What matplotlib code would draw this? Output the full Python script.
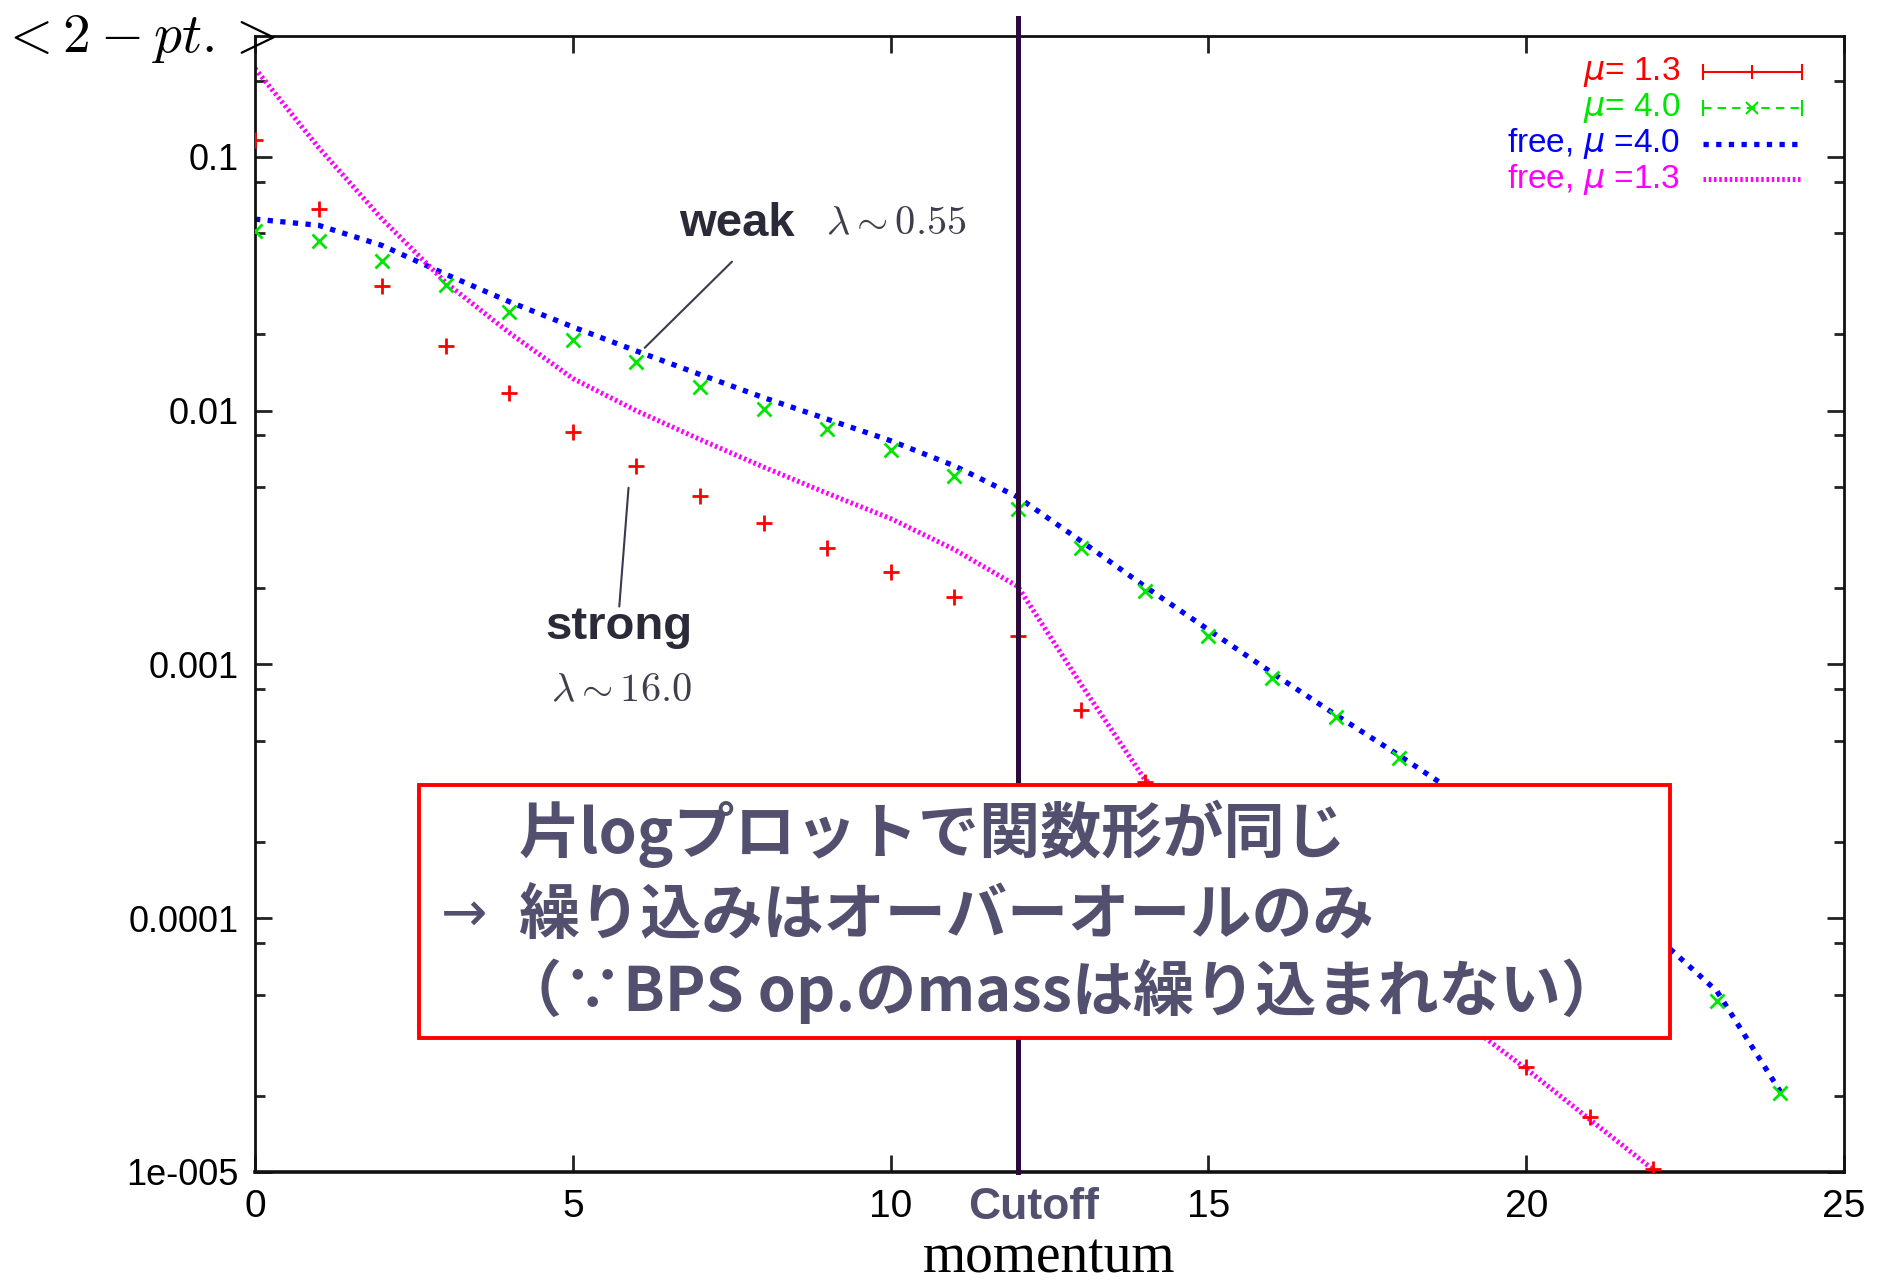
import numpy as np
import matplotlib
matplotlib.use("Agg")
import matplotlib.pyplot as plt
from matplotlib.patches import Rectangle
from matplotlib.ticker import FixedLocator, FixedFormatter, LogLocator, NullFormatter

plt.rcParams['font.family'] = ['Liberation Sans', 'DejaVu Sans']
plt.rcParams['mathtext.fontset'] = 'dejavusans'

# --- data (2-pt function vs momentum) ---
# mu = 1.3 (points 15..19 sit behind the text box, estimated)
mom_mu13 = np.arange(0, 23)
corr_mu13 = [0.1164, 0.0626, 0.0310, 0.0180, 0.01178, 0.00822, 0.00607, 0.00462,
             0.00360, 0.00287, 0.00231, 0.00184, 0.00130, 0.000662, 0.000345,
             0.000226, 0.000148, 9.47e-5, 6.14e-5, 3.93e-5, 2.60e-5, 1.65e-5, 1.03e-5]

# mu = 4.0 (points 19..22 hidden behind the box, estimated)
mom_mu40 = np.arange(0, 25)
corr_mu40 = [0.0511, 0.0468, 0.0389, 0.0313, 0.0244, 0.0190, 0.0155, 0.0124,
             0.0102, 0.00849, 0.00699, 0.00551, 0.00410, 0.00287, 0.00194,
             0.00130, 0.000887, 0.000619, 0.000428, 0.000287, 0.000194,
             0.000128, 8.22e-5, 4.73e-5, 2.05e-5]

# free theory curves
mom_free40 = np.arange(0, 25)
free_mu40 = [0.0569, 0.0538, 0.0448, 0.0345, 0.0269, 0.0214, 0.0172, 0.0139,
             0.01127, 0.00927, 0.00762, 0.00607, 0.00457, 0.00306, 0.00203,
             0.00137, 0.000927, 0.000634, 0.000438, 0.000299, 0.000203,
             0.000134, 8.68e-5, 5.16e-5, 2.07e-5]

mom_free13 = np.arange(0, 24)
free_mu13 = [0.2234, 0.109, 0.0569, 0.0320, 0.0203, 0.0134, 0.0100, 0.00771,
             0.00600, 0.00473, 0.00376, 0.00284, 0.00203, 0.000832, 0.000352,
             0.000231, 0.000153, 9.68e-5, 6.27e-5, 3.93e-5, 2.55e-5, 1.61e-5,
             1.02e-5, 6.4e-6]

cutoff = 12
xticks = [0, 5, 10, 15, 20, 25]
yticks = [1e-5, 1e-4, 1e-3, 1e-2, 1e-1]
ytick_labels = ['1e-005', '0.0001', '0.001', '0.01', '0.1']

legend_labels = [r'$\mu$= 1.3', r'$\mu$= 4.0', r'free, $\mu$ =4.0', r'free, $\mu$ =1.3']

box_lines = ['片logプロットで関数形が同じ',
             '繰り込みはオーバーオールのみ',
             '（∵BPS op.のmassは繰り込まれない）']

RED = '#ff0000'
GREEN = '#00e600'
BLUE = '#0000ff'
MAGENTA = '#ff00ff'
SLATE = '#52506e'
DARK = '#2a2a38'

fig = plt.figure(figsize=(18.78, 12.88), dpi=100)
ax = fig.add_axes([0.1358, 0.0901, 0.8461, 0.8820])

# Curves
ax.plot(mom_free40, free_mu40, color=BLUE, lw=3.8, linestyle=(0, (1, 1.4)), zorder=2)
ax.plot(mom_free13, free_mu13, color=MAGENTA, lw=3.6, linestyle=(0, (0.5, 0.55)), zorder=2)
ax.plot(mom_mu13, corr_mu13, linestyle='none', marker='+', ms=12, mew=2,
        color=RED, zorder=3)
ax.plot(mom_mu40, corr_mu40, linestyle='none', marker='x', ms=10, mew=2,
        color=GREEN, zorder=3)

# Cutoff line (runs a bit above the frame like on the slide)
ax.axvline(cutoff, ymin=0, ymax=1.016, color='#2d0a3a', lw=3.6, zorder=4, clip_on=False)

ax.set_yscale('log')
ax.set_xlim(0, 25)
ax.set_ylim(1e-5, 0.3)

ax.xaxis.set_major_locator(FixedLocator(xticks))
ax.yaxis.set_major_locator(FixedLocator(yticks))
ax.yaxis.set_major_formatter(FixedFormatter(ytick_labels))
ax.yaxis.set_minor_locator(LogLocator(base=10, subs=(2, 5, 8)))
ax.yaxis.set_minor_formatter(NullFormatter())

ax.tick_params(which='both', direction='in', top=True, right=True, width=2, color='#222222')
ax.tick_params(which='major', length=12)
ax.tick_params(which='minor', length=7)
ax.tick_params(axis='y', labelsize=26, pad=12)
ax.tick_params(axis='x', labelsize=28, pad=12)
for lab in ax.get_xticklabels():
    lab.set_family(['Liberation Sans Narrow', 'Liberation Sans'])

for sp in ax.spines.values():
    sp.set_linewidth(2)
    sp.set_color('#111111')
ax.spines['bottom'].set_linewidth(2.6)

# Legend drawn like gnuplot: right-aligned labels, samples on the right
rows = [0.968, 0.937, 0.905, 0.874]
colors = [RED, GREEN, BLUE, MAGENTA]
x0, x1 = 0.911, 0.9736
for lab, yy, c in zip(legend_labels, rows, colors):
    ax.text(0.897, yy, lab, transform=ax.transAxes, ha='right', va='center',
            fontsize=24, color=c)
ax.plot([x0, x1], [rows[0]] * 2, color=RED, lw=1.5, transform=ax.transAxes)
ax.plot([x0, x1], [rows[0]] * 2, ls='none', marker='|', ms=12, mew=1.5, color=RED,
        transform=ax.transAxes)
ax.plot([(x0 + x1) / 2], [rows[0]], marker='+', ms=10, mew=1.5, color=RED,
        transform=ax.transAxes)
ax.plot([x0, x1], [rows[1]] * 2, color=GREEN, lw=1.5, ls=(0, (4, 3)), transform=ax.transAxes)
ax.plot([x0, x1], [rows[1]] * 2, ls='none', marker='|', ms=12, mew=1.5, color=GREEN,
        transform=ax.transAxes)
ax.plot([(x0 + x1) / 2], [rows[1]], marker='x', ms=9, mew=1.5, color=GREEN,
        transform=ax.transAxes)
ax.plot([x0, x1], [rows[2]] * 2, color=BLUE, lw=3.8, ls=(0, (1, 1.4)), transform=ax.transAxes)
ax.plot([x0, x1], [rows[3]] * 2, color=MAGENTA, lw=3.6, ls=(0, (0.5, 0.55)),
        transform=ax.transAxes)

# Annotations
ax.text(0.2668, 0.8346, 'weak', transform=ax.transAxes, ha='left', va='center',
        fontsize=34, fontweight='bold', color=DARK)
ax.text(0.3595, 0.8346, r'$\lambda \sim 0.55$', transform=ax.transAxes, ha='left',
        va='center', fontsize=29, color='#3e3e4c', math_fontfamily='cm')
ax.annotate('', xy=(6.10, 0.0174), xytext=(0.3014, 0.8030), textcoords='axes fraction',
            arrowprops=dict(arrowstyle='-', color='#3a3a50', lw=1.5))

ax.text(0.1824, 0.4795, 'strong', transform=ax.transAxes, ha='left', va='center',
        fontsize=34, fontweight='bold', color=DARK)
ax.text(0.1861, 0.4236, r'$\lambda \sim 16.0$', transform=ax.transAxes, ha='left',
        va='center', fontsize=29, color='#3e3e4c', math_fontfamily='cm')
ax.annotate('', xy=(5.88, 0.0051), xytext=(0.2291, 0.4953), textcoords='axes fraction',
            arrowprops=dict(arrowstyle='-', color='#3a3a50', lw=1.5))

# Message box
box = Rectangle((0.1032, 0.118), 0.8907 - 0.1032, 0.3404 - 0.118, transform=ax.transAxes,
                facecolor='white', edgecolor='#ff0000', lw=2.8, zorder=6)
ax.add_patch(box)
cjk = ['Noto Sans CJK JP', 'DejaVu Sans']
ax.text(0.1658, 0.2972, box_lines[0], transform=ax.transAxes, ha='left', va='center',
        fontsize=44, fontweight='bold', color=SLATE, family=cjk, zorder=7)
ax.text(0.1168, 0.2255, '→', transform=ax.transAxes, ha='left', va='center',
        fontsize=40, color=SLATE, family=['DejaVu Sans'], zorder=7)
ax.text(0.1658, 0.2255, box_lines[1], transform=ax.transAxes, ha='left', va='center',
        fontsize=44, fontweight='bold', color=SLATE, family=cjk, zorder=7)
ax.text(0.1545, 0.1591, box_lines[2], transform=ax.transAxes, ha='left', va='center',
        fontsize=44, fontweight='bold', color=SLATE, family=cjk, zorder=7)

# Cutoff label and axis titles
ax.text(12.25, -0.031, 'Cutoff', transform=ax.get_xaxis_transform(), ha='center',
        va='center', fontsize=32, fontweight='bold', color=SLATE)
fig.text(0.5589, 0.003, 'momentum', ha='center', va='bottom', fontsize=40,
         family=['Liberation Serif', 'DejaVu Serif'])
fig.text(0.0, 0.970, r'$<2-pt.>$', ha='left', va='center', fontsize=40,
         math_fontfamily='cm')

fig.savefig('out.png', dpi=100)
